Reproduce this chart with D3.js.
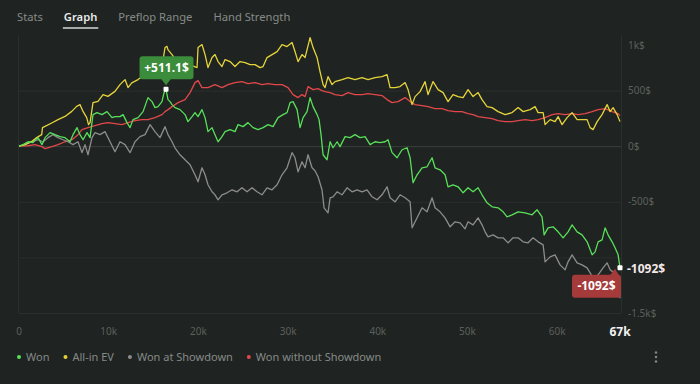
<!DOCTYPE html>
<html>
<head>
<meta charset="utf-8">
<script src="https://cdn.jsdelivr.net/npm/d3@7"></script>
<style>
  html, body { margin: 0; padding: 0; background: #1f2321; }
  svg { display: block; font-family: "Noto Sans", "Open Sans", sans-serif; }
</style>
</head>
<body>
<div id="chart"></div>
<script>
// tabs and axis labels
const tabs = ['Stats', 'Graph', 'Preflop Range', 'Hand Strength'];
const activeTab = 'Graph';
const xTicks = [0, 10, 20, 30, 40, 50, 60];
const xTickLabels = ['0', '10k', '20k', '30k', '40k', '50k', '60k'];
const totalHands = 67;           // thousands
const totalLabel = '67k';
const yTicks = [1000, 500, 0, -500, -1500];
const yTickLabels = ['1k$', '500$', '0$', '-500$', '-1.5k$'];
const gridValues = [500, 0, -500, -1000, -1500];

const legendNames = ['Won', 'All-in EV', 'Won at Showdown', 'Won without Showdown'];
const legendColors = ['#58e05a', '#e4d43a', '#8c8c8c', '#e2484a'];

// [hands (k), result ($)]
const won = [[0,0],[0.45,14],[1.0,40],[1.56,32],[2.12,77],[2.56,14],[2.9,77],[3.46,122],[4.01,104],[4.57,86],[5.13,77],[5.69,40],[6.02,104],[6.47,167],[6.8,104],[7.14,58],[7.58,122],[7.92,77],[8.25,284],[8.7,302],[9.25,284],[9.81,311],[10.37,257],[10.7,266],[11.26,266],[11.6,284],[12.04,212],[12.38,167],[12.71,239],[13.27,257],[13.83,311],[14.38,437],[14.83,401],[15.16,347],[15.5,356],[15.94,401],[16.17,482],[16.39,511.1],[16.61,419],[16.84,401],[17.06,374],[17.39,347],[17.95,329],[18.51,284],[18.84,221],[19.29,266],[19.62,302],[19.96,266],[20.4,329],[20.74,257],[21.07,131],[21.52,167],[21.85,104],[22.19,40],[22.63,86],[22.97,131],[23.53,149],[24.08,131],[24.42,194],[24.98,176],[25.53,212],[26.09,167],[26.65,149],[27.21,167],[27.76,194],[28.32,176],[28.88,257],[29.44,284],[29.88,302],[30.22,392],[30.55,401],[31.0,329],[31.33,167],[31.67,257],[32.11,311],[32.45,437],[32.78,356],[33.23,284],[33.45,239],[33.67,104],[33.9,-77],[34.34,-122],[34.68,40],[35.01,-14],[35.46,40],[35.79,-4],[36.35,86],[36.91,77],[37.46,104],[38.02,77],[38.58,86],[39.14,14],[39.69,40],[40.25,32],[40.81,40],[41.14,58],[41.59,-58],[42.15,-104],[42.7,-32],[43.26,-14],[43.6,-104],[43.93,-329],[44.38,-257],[44.93,-194],[45.49,-185],[46.05,-104],[46.38,-194],[46.94,-212],[47.5,-257],[47.83,-365],[48.39,-347],[48.95,-365],[49.51,-419],[50.06,-374],[50.62,-410],[51.18,-374],[51.62,-437],[52.18,-509],[52.74,-545],[53.41,-554],[53.97,-590],[54.41,-635],[54.97,-617],[55.64,-590],[56.42,-599],[57.2,-617],[57.76,-572],[58.31,-635],[58.54,-797],[58.98,-734],[59.54,-725],[60.1,-770],[60.66,-824],[61.21,-770],[61.66,-707],[62.22,-770],[62.77,-797],[63.33,-860],[63.89,-977],[64.22,-950],[64.56,-860],[65.0,-842],[65.34,-734],[65.67,-797],[66.12,-860],[66.45,-914],[66.79,-977],[67.0,-1092]];

const allInEV = [[0,0],[0.67,14],[1.42,43],[1.97,77],[2.53,104],[2.62,167],[2.9,178],[3.65,209],[4.35,239],[5.13,268],[5.88,313],[6.43,358],[6.8,374],[7.14,313],[7.55,257],[7.75,194],[7.92,212],[8.25,392],[8.81,403],[9.37,464],[9.92,448],[10.7,493],[11.26,554],[11.82,599],[12.15,527],[12.57,569],[13.27,599],[14.05,644],[14.83,689],[15.5,707],[16.06,779],[16.28,887],[16.5,898],[16.6,869],[17.06,824],[17.6,761],[18.17,734],[18.73,716],[19.29,725],[19.85,707],[19.96,887],[20.4,914],[20.74,824],[21.07,707],[21.52,797],[21.85,824],[22.19,761],[22.63,716],[22.97,779],[23.53,761],[24.08,716],[24.64,761],[25.2,752],[25.76,734],[26.31,734],[26.87,707],[27.21,716],[27.65,797],[28.21,824],[28.77,851],[29.32,914],[29.88,896],[30.44,932],[30.77,851],[31.11,761],[31.55,824],[31.89,797],[32.45,977],[32.78,887],[33.23,797],[33.56,671],[33.9,554],[34.12,527],[34.45,626],[34.9,554],[35.23,581],[36.01,599],[36.68,617],[37.46,599],[38.24,617],[38.91,599],[39.69,617],[40.47,626],[41.03,644],[41.37,527],[41.92,527],[42.48,536],[43.04,572],[43.37,509],[43.82,374],[44.15,446],[44.71,491],[45.27,581],[45.6,464],[46.16,581],[46.72,509],[47.28,482],[47.83,401],[48.39,464],[48.95,446],[49.51,437],[50.06,509],[50.62,446],[51.18,482],[51.62,419],[52.18,356],[52.74,347],[53.41,311],[54.19,284],[54.97,302],[55.64,347],[56.2,311],[56.98,329],[57.53,356],[57.87,302],[58.43,302],[58.65,194],[59.21,239],[59.76,221],[60.1,266],[60.54,194],[61.1,257],[61.66,302],[62.22,239],[62.77,239],[63.33,239],[63.67,167],[64.0,149],[64.45,221],[65.0,284],[65.56,374],[65.9,311],[66.23,347],[66.68,284],[67.0,221]];

const wonAtShowdown = [[0,0],[0.67,14],[1.45,40],[2.12,58],[2.68,40],[3.23,77],[3.79,104],[4.35,77],[4.91,58],[5.46,40],[6.02,14],[6.58,40],[7.02,-58],[7.36,14],[7.69,-77],[8.14,77],[8.47,122],[9.03,104],[9.59,131],[10.15,40],[10.7,-50],[11.26,40],[11.82,14],[12.38,-58],[12.93,40],[13.49,86],[14.05,104],[14.61,194],[15.16,131],[15.72,77],[16.28,176],[16.61,104],[17.06,40],[17.39,-14],[17.95,-77],[18.51,-122],[19.07,-167],[19.62,-257],[19.96,-320],[20.4,-194],[20.74,-257],[21.07,-347],[21.52,-410],[21.85,-437],[22.19,-482],[22.63,-437],[23.19,-419],[23.75,-392],[24.31,-410],[24.86,-374],[25.42,-410],[25.98,-374],[26.54,-410],[27.09,-437],[27.65,-374],[28.21,-392],[28.77,-347],[29.32,-257],[29.88,-194],[30.44,-58],[30.77,-104],[31.11,-230],[31.55,-140],[31.89,-194],[32.22,-77],[32.67,-194],[33.0,-221],[33.34,-275],[33.78,-392],[34.01,-554],[34.45,-599],[34.68,-464],[35.01,-455],[35.46,-410],[36.01,-437],[36.57,-374],[37.13,-410],[37.69,-392],[38.24,-410],[38.8,-392],[39.36,-455],[39.92,-482],[40.47,-437],[41.03,-365],[41.37,-464],[41.92,-500],[42.48,-437],[43.04,-464],[43.6,-500],[43.82,-734],[44.38,-644],[44.93,-554],[45.49,-590],[46.05,-464],[46.38,-554],[46.94,-590],[47.5,-644],[48.06,-725],[48.61,-680],[49.17,-689],[49.73,-743],[50.06,-680],[50.62,-707],[51.18,-644],[51.62,-707],[51.96,-770],[52.29,-815],[52.85,-797],[53.41,-824],[53.97,-824],[54.52,-869],[55.08,-824],[55.64,-824],[56.2,-860],[56.75,-869],[57.31,-824],[57.87,-860],[58.43,-887],[58.65,-1040],[59.21,-995],[59.76,-977],[60.32,-1067],[60.88,-1112],[61.21,-1040],[61.66,-977],[62.22,-1049],[62.77,-1067],[63.33,-1094],[63.67,-1139],[64.0,-1184],[64.56,-1157],[65.11,-1094],[65.56,-1049],[65.9,-1112],[66.23,-1130],[66.68,-1157],[67.0,-1367]];

const wonWithoutShowdown = [[0,0],[1.0,4],[1.78,14],[2.56,-4],[2.9,-22],[3.68,-4],[4.35,14],[5.13,40],[5.91,58],[6.58,104],[7.02,149],[7.69,167],[8.47,185],[9.25,203],[9.92,212],[10.7,203],[11.48,194],[12.15,212],[12.93,230],[13.71,239],[14.38,239],[15.16,257],[15.94,284],[16.28,311],[16.61,329],[17.06,356],[17.73,392],[18.51,419],[19.07,482],[19.62,572],[19.96,590],[20.4,527],[21.07,527],[21.85,554],[22.63,527],[23.3,554],[24.08,572],[24.86,581],[25.53,563],[26.31,572],[27.09,554],[27.76,563],[28.54,554],[29.32,554],[29.99,527],[30.55,464],[31.11,437],[31.55,464],[31.89,446],[32.22,536],[32.78,509],[33.34,518],[33.78,500],[34.12,491],[34.68,482],[35.23,464],[36.01,455],[36.68,482],[37.46,464],[38.24,464],[38.91,473],[39.69,464],[40.47,455],[41.03,419],[41.59,392],[42.26,401],[43.04,437],[43.6,401],[44.15,374],[44.93,365],[45.6,356],[46.38,338],[47.16,338],[47.83,320],[48.61,311],[49.39,311],[50.06,293],[50.62,284],[51.18,266],[51.96,257],[52.74,248],[53.41,230],[54.19,221],[54.97,221],[55.64,230],[56.42,239],[57.2,230],[57.87,239],[58.65,257],[59.43,284],[60.1,293],[60.88,284],[61.66,293],[62.33,284],[63.11,293],[63.89,311],[64.56,329],[65.34,338],[66.12,311],[66.79,293],[67.0,275]];

const series = [wonWithoutShowdown, wonAtShowdown, allInEV, won];
const seriesColors = ['#e2484a', '#8c8c8c', '#e4d43a', '#58e05a'];

const peak = won.reduce((a, b) => (b[1] > a[1] ? b : a));
const last = won[won.length - 1];

// canvas
const width = 700;
const height = 384;
const plot = { left: 19, right: 620, top: 35, bottom: 313 };

const svg = d3.select('#chart').append('svg')
  .attr('width', width)
  .attr('height', height)
  .style('background', '#1f2321');

// tabs
let tx = 17;
tabs.forEach(name => {
  const t = svg.append('text')
    .attr('x', tx)
    .attr('y', 21)
    .attr('font-size', 11.2)
    .attr('fill', name === activeTab ? '#e9ecea' : '#868b88')
    .attr('font-weight', name === activeTab ? 600 : 400)
    .text(name);
  const w = t.node().getComputedTextLength();
  if (name === activeTab) {
    svg.append('line')
      .attr('x1', tx - 1).attr('x2', tx + w + 1)
      .attr('y1', 28).attr('y2', 28)
      .attr('stroke', '#d6d9d7')
      .attr('stroke-width', 1.5);
  }
  tx += w + 21;
});

const x = d3.scaleLinear().domain([0, totalHands]).range([plot.left, plot.right]);
const y = d3.scaleLinear().domain([-1500, 1000]).range([plot.bottom, plot.top]);

// grid
svg.append('g')
  .selectAll('line')
  .data(gridValues)
  .join('line')
  .attr('x1', plot.left).attr('x2', plot.right + 1)
  .attr('y1', d => y(d) + 0.5).attr('y2', d => y(d) + 0.5)
  .attr('stroke', d => (d === 0 ? '#3b403e' : '#2a2f2d'))
  .attr('stroke-width', 1);

svg.append('line')
  .attr('x1', plot.left - 0.5).attr('x2', plot.left - 0.5)
  .attr('y1', plot.top).attr('y2', plot.bottom)
  .attr('stroke', '#2a2f2d');
svg.append('line')
  .attr('x1', plot.right + 1.5).attr('x2', plot.right + 1.5)
  .attr('y1', plot.top).attr('y2', plot.bottom)
  .attr('stroke', '#2a2f2d');

// y labels
svg.append('g')
  .selectAll('text')
  .data(yTicks)
  .join('text')
  .attr('x', 628)
  .attr('y', d => Math.max(y(d), 45))
  .attr('dy', '0.35em')
  .attr('font-size', 10)
  .attr('fill', '#5b605d')
  .text((d, i) => yTickLabels[i]);

// x labels
svg.append('g')
  .selectAll('text')
  .data(xTicks)
  .join('text')
  .attr('x', d => x(d))
  .attr('y', 331)
  .attr('dy', '0.35em')
  .attr('text-anchor', 'middle')
  .attr('font-size', 10)
  .attr('fill', '#5b605d')
  .text((d, i) => xTickLabels[i]);

svg.append('text')
  .attr('x', x(totalHands))
  .attr('y', 332)
  .attr('dy', '0.35em')
  .attr('text-anchor', 'middle')
  .attr('font-size', 12)
  .attr('font-weight', 700)
  .attr('fill', '#f2f2f2')
  .text(totalLabel);

// lines
const line = d3.line()
  .x(d => x(d[0]))
  .y(d => y(d[1]));

svg.append('g')
  .selectAll('path')
  .data(series)
  .join('path')
  .attr('d', line)
  .attr('fill', 'none')
  .attr('stroke', (d, i) => seriesColors[i])
  .attr('stroke-width', 1.3)
  .attr('stroke-linejoin', 'round');

// peak tooltip
const px = x(peak[0]);
const py = y(peak[1]);
const tipW = 54, tipH = 23;
svg.append('rect')
  .attr('x', px - tipW / 2 + 0.5)
  .attr('y', py - 10 - tipH)
  .attr('width', tipW).attr('height', tipH)
  .attr('rx', 3)
  .attr('fill', '#3b8c3b');
svg.append('path')
  .attr('d', `M${px - 5},${py - 10.5} L${px + 5},${py - 10.5} L${px},${py - 4} Z`)
  .attr('fill', '#3b8c3b');
svg.append('text')
  .attr('x', px + 0.5)
  .attr('y', py - 10 - tipH / 2)
  .attr('dy', '0.35em')
  .attr('text-anchor', 'middle')
  .attr('font-size', 12)
  .attr('font-weight', 700)
  .attr('fill', '#ffffff')
  .text('+' + peak[1].toFixed(1) + '$');
svg.append('rect')
  .attr('x', px - 2.5).attr('y', py - 2.5)
  .attr('width', 5).attr('height', 5)
  .attr('rx', 1)
  .attr('fill', '#ffffff');

// last value tooltip
const lx = x(last[0]);
const ly = y(last[1]);
const endW = 49, endH = 23;
svg.append('rect')
  .attr('x', lx - endW + 1)
  .attr('y', ly + 7)
  .attr('width', endW).attr('height', endH)
  .attr('rx', 3)
  .attr('fill', '#a43a3a');
svg.append('path')
  .attr('d', `M${lx - 10},${ly + 7.5} L${lx - 1},${ly + 7.5} L${lx - 5},${ly + 1} Z`)
  .attr('fill', '#a43a3a');
svg.append('text')
  .attr('x', lx - endW / 2 + 1)
  .attr('y', ly + 7 + endH / 2)
  .attr('dy', '0.35em')
  .attr('text-anchor', 'middle')
  .attr('font-size', 12)
  .attr('font-weight', 700)
  .attr('fill', '#ffffff')
  .text(last[1] + '$');
svg.append('rect')
  .attr('x', lx - 2.5).attr('y', ly - 2.5)
  .attr('width', 5).attr('height', 5)
  .attr('rx', 1)
  .attr('fill', '#ffffff');
svg.append('text')
  .attr('x', 627)
  .attr('y', ly + 1)
  .attr('dy', '0.35em')
  .attr('font-size', 12)
  .attr('font-weight', 700)
  .attr('fill', '#f4e8e8')
  .text(last[1] + '$');

// legend
let lxPos = 19;
legendNames.forEach((name, i) => {
  svg.append('circle')
    .attr('cx', lxPos).attr('cy', 357)
    .attr('r', 2)
    .attr('fill', legendColors[i]);
  const t = svg.append('text')
    .attr('x', lxPos + 7)
    .attr('y', 357)
    .attr('dy', '0.35em')
    .attr('font-size', 11)
    .attr('fill', '#858a87')
    .text(name);
  lxPos += 7 + t.node().getComputedTextLength() + 16;
});

// menu dots
svg.append('g')
  .selectAll('circle')
  .data([-4.5, 0, 4.5])
  .join('circle')
  .attr('cx', 656)
  .attr('cy', d => 357 + d)
  .attr('r', 1.2)
  .attr('fill', '#858a87');
</script>
</body>
</html>
